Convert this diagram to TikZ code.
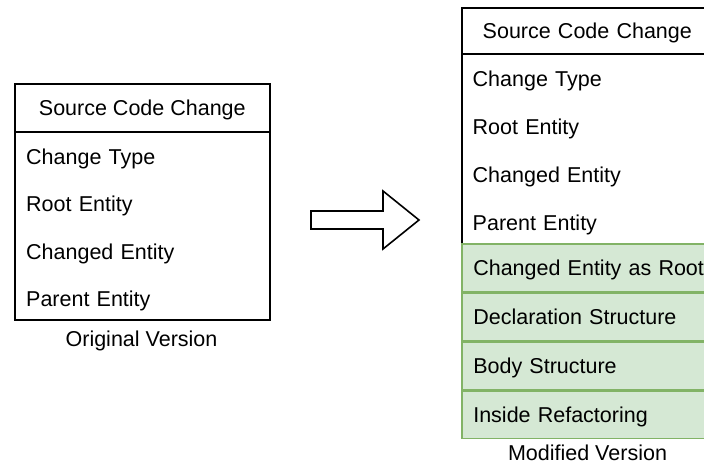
\documentclass[tikz,border=0pt]{standalone}
\usepackage{fontspec}
\setmainfont{Liberation Sans}
\definecolor{gfill}{HTML}{D5E8D4}
\definecolor{gline}{HTML}{82B366}
\begin{document}
\begin{tikzpicture}[x=1bp,y=-1bp,
  font=\fontsize{21.5bp}{26bp}\selectfont,
  outer/.style={draw=black, line width=1.6bp, fill=white, anchor=north west, inner sep=0pt},
  hdr/.style={draw=black, line width=1.6bp, anchor=north west, inner sep=0pt, text height=16bp, text depth=0pt, align=center},
  item/.style={anchor=north west, inner xsep=12bp, inner ysep=0pt, text height=16bp, text depth=0pt, align=left},
  ritem/.style={item, minimum width=255bp, minimum height=47.5bp, text width=232bp, inner xsep=11.5bp},
  gitem/.style={ritem, draw=gline, fill=gfill, line width=1.6bp},
  caption/.style={anchor=base, inner sep=0pt},
  bigarrow/.style={draw=black, line width=1.6bp, fill=white, line join=miter}
]
\useasboundingbox (0,0) rectangle (704,464);
\clip (0,0) rectangle (704,464);

% ---- left (original) ----
\node[outer, minimum width=255bp, minimum height=236bp] (L) at (14,83) {};
\node[hdr, minimum width=255bp, minimum height=48bp] (Lh) at (14,83) {Source Code Change};
\node[item, minimum width=255bp, minimum height=47bp, text width=231bp] (L1) at (Lh.south west) {Change Type};
\node[item, minimum width=255bp, minimum height=47bp, text width=231bp] (L2) at (L1.south west) {Root Entity};
\node[item, minimum width=255bp, minimum height=47bp, text width=231bp] (L3) at (L2.south west) {Changed Entity};
\node[item, minimum width=255bp, minimum height=47bp, text width=231bp] (L4) at (L3.south west) {Parent Entity};
\node[caption] (Lcap) at (141.5,347) {Original Version};

% ---- arrow ----
\coordinate (a1) at (311,211);
\coordinate (a2) at (383,211);
\coordinate (a3) at (383,191);
\coordinate (a4) at (419,220);
\coordinate (a5) at (383,249);
\coordinate (a6) at (383,229);
\coordinate (a7) at (311,229);
\draw[bigarrow] (a1) -- (a2) -- (a3) -- (a4) -- (a5) -- (a6) -- (a7) -- cycle;

% ---- right (modified) ----
\node[outer, minimum width=255bp, minimum height=236bp] (R) at (461,7) {};
\node[hdr, minimum width=255bp, minimum height=46bp, text width=251bp] (Rh) at (461,7) {\hspace*{-4bp}Source Code Change};
\node[ritem] (R1) at (Rh.south west) {Change Type};
\node[ritem] (R2) at (R1.south west) {Root Entity};
\node[ritem] (R3) at (R2.south west) {Changed Entity};
\node[ritem] (R4) at (R3.south west) {Parent Entity};
\node[gitem] (G1) at (461,243) {\mbox{Changed Entity as Root}};
\node[gitem] (G2) at (G1.south west) {Declaration Structure};
\node[gitem] (G3) at (G2.south west) {Body Structure};
\node[gitem] (G4) at (G3.south west) {Inside Refactoring};
\node[caption] (Rcap) at (587.5,460) {Modified Version};
\end{tikzpicture}
\end{document}
